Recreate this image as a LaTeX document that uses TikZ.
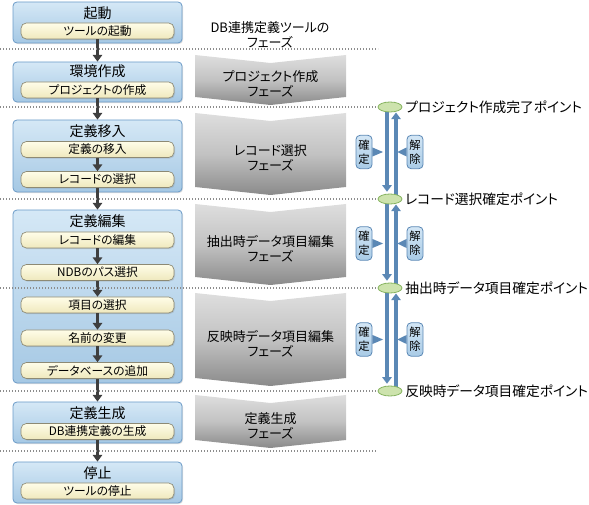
\documentclass[tikz,border=0pt]{standalone}
\usepackage{fontspec}
\setmainfont[RawFeature=+palt]{Noto Sans CJK JP}
\usetikzlibrary{arrows.meta,shadows,shapes.geometric}
\definecolor{boxedge}{HTML}{6B9BC8}
\definecolor{bluetop}{HTML}{D5E8F6}
\definecolor{bluebot}{HTML}{A5C8E4}
\definecolor{inneredge}{HTML}{8D8A74}
\definecolor{creamtop}{HTML}{FFFDE8}
\definecolor{creambot}{HTML}{EFE8BD}
\definecolor{flowgray}{HTML}{3F3F3F}
\definecolor{dotgray}{HTML}{8C8C8C}
\definecolor{arrowblue}{HTML}{5B88B5}
\definecolor{ktop}{HTML}{D3E6F5}
\definecolor{kbot}{HTML}{A9CBE6}
\definecolor{ellfill}{HTML}{CDE3AD}
\definecolor{elledge}{HTML}{86B35F}
\definecolor{chevtop}{HTML}{DEDEDE}
\definecolor{chevmid}{HTML}{C2C2C2}
\definecolor{chevbot}{HTML}{8A8A8A}
\begin{document}
\begin{tikzpicture}[x=0.75pt,y=-0.75pt,
  bluebox/.style={draw=boxedge, line width=0.6pt, rounded corners=3pt,
    top color=bluetop, bottom color=bluebot, minimum width=126.75pt, inner sep=0pt,
    drop shadow={opacity=0.25, shadow xshift=0.8pt, shadow yshift=-0.8pt}},
  innerbox/.style={draw=inneredge, line width=0.5pt, rounded corners=4pt,
    top color=creamtop, bottom color=creambot, minimum width=114.75pt,
    minimum height=12pt, inner sep=0pt, font=\fontsize{8.8}{10}\selectfont,
    drop shadow={opacity=0.25, shadow xshift=0.8pt, shadow yshift=-0.8pt}},
  boxtitle/.style={font=\fontsize{10.5}{12}\selectfont, inner sep=0pt},
  flow/.style={draw=flowgray, line width=2.25pt, -{Triangle[width=7pt,length=5pt]}},
  dotline/.style={draw=dotgray, line width=0.9pt, dash pattern=on 0.9pt off 1.35pt},
  chev/.style={top color=chevtop, bottom color=chevbot, middle color=chevmid},
  phasetext/.style={font=\fontsize{9.75}{11}\selectfont, align=center, inner sep=0pt},
  pointell/.style={ellipse, draw=elledge, line width=0.6pt, fill=ellfill,
    minimum width=18pt, minimum height=7.5pt, inner sep=0pt},
  pointlabel/.style={font=\fontsize{10.3}{11}\selectfont, anchor=west, inner sep=0pt},
  varr/.style={draw=arrowblue, line width=3pt, -{Triangle[width=7pt,length=5pt]}},
  kbox/.style={draw=arrowblue, line width=0.6pt, rounded corners=3pt,
    top color=ktop, bottom color=kbot, minimum width=12pt, minimum height=25pt,
    inner sep=0pt, align=center, font=\fontsize{8.5}{10.5}\selectfont},
]
\useasboundingbox (0,0) rectangle (589,505);

% ---- chevrons (phases) ----
\shade[chev] (195,55) -- (270.5,63) -- (346,55) -- (346,97) -- (270.5,105) -- (195,97) -- cycle;
\shade[chev] (195,113) -- (270.5,121) -- (346,113) -- (346,187) -- (270.5,195) -- (195,187) -- cycle;
\shade[chev] (195,204) -- (270.5,212) -- (346,204) -- (346,277) -- (270.5,285) -- (195,277) -- cycle;
\shade[chev] (195,293) -- (270.5,301) -- (346,293) -- (346,378) -- (270.5,386) -- (195,378) -- cycle;
\shade[chev] (195,395) -- (270.5,403) -- (346,395) -- (346,440) -- (270.5,448) -- (195,440) -- cycle;

\node[phasetext] (hdr) at (270,35) {DB連携定義ツールの\\フェーズ};
\node[phasetext] (ph1) at (270.5,84) {プロジェクト作成\\フェーズ};
\node[phasetext] (ph2) at (270.5,158) {レコード選択\\フェーズ};
\node[phasetext] (ph3) at (270.5,248.5) {抽出時データ項目編集\\フェーズ};
\node[phasetext] (ph4) at (270.5,343.5) {反映時データ項目編集\\フェーズ};
\node[phasetext] (ph5) at (270.5,426) {定義生成\\フェーズ};

% ---- left column boxes ----
\node[bluebox, minimum height=30.75pt] (b1) at (97.5,22.5) {};
\node[boxtitle] (t1) at (97.5,13) {起動};
\node[innerbox] (i1) at (97.5,31) {ツールの起動};

\node[bluebox, minimum height=30pt] (b2) at (97.5,82) {};
\node[boxtitle] (t2) at (97.5,71.5) {環境作成};
\node[innerbox] (i2) at (97.5,90) {プロジェクトの作成};

\node[bluebox, minimum height=54pt] (b3) at (97.5,156) {};
\node[boxtitle] (t3) at (97.5,131) {定義移入};
\node[innerbox] (i3a) at (97.5,149.5) {定義の移入};
\node[innerbox] (i3b) at (97.5,179.5) {レコードの選択};

\node[bluebox, minimum height=129.75pt] (b4) at (97.5,296.5) {};
\node[boxtitle] (t4) at (97.5,221) {定義編集};
\node[innerbox] (i4a) at (97.5,240) {レコードの編集};
\node[innerbox] (i4b) at (97.5,272.5) {NDBのパス選択};
\node[innerbox] (i4c) at (97.5,305) {項目の選択};
\node[innerbox] (i4d) at (97.5,338) {名前の変更};
\node[innerbox] (i4e) at (97.5,370.5) {データベースの追加};

\node[bluebox, minimum height=30.75pt] (b5) at (97.5,422.5) {};
\node[boxtitle] (t5) at (97.5,413) {定義生成};
\node[innerbox] (i5) at (97.5,431.5) {DB連携定義の生成};

\node[bluebox, minimum height=30.75pt] (b6) at (97.5,482.5) {};
\node[boxtitle] (t6) at (97.5,473) {停止};
\node[innerbox] (i6) at (97.5,491) {ツールの停止};

% ---- flow arrows ----
\draw[flow] (i1.south) -- (b2.north);
\draw[flow] (i2.south) -- (b3.north);
\draw[flow] (i3a.south) -- (i3b.north);
\draw[flow] (i3b.south) -- (b4.north);
\draw[flow] (i4a.south) -- (i4b.north);
\draw[flow] (i4b.south) -- (i4c.north);
\draw[flow] (i4c.south) -- (i4d.north);
\draw[flow] (i4d.south) -- (i4e.north);
\draw[flow] (i4e.south) -- (b5.north);
\draw[flow] (i5.south) -- (b6.north);

% ---- right side: points ----
\coordinate (e1c) at (390,107);
\coordinate (e2c) at (390,199);
\coordinate (e3c) at (390,288);
\coordinate (e4c) at (390,391);

\draw[varr] ([xshift=-2.25pt]e1c) -- ([xshift=-2.25pt,yshift=5.4pt]e2c);
\draw[varr] ([xshift=4.5pt]e2c) -- ([xshift=4.5pt,yshift=-4.1pt]e1c);
\draw[varr] ([xshift=-2.25pt]e2c) -- ([xshift=-2.25pt,yshift=5.4pt]e3c);
\draw[varr] ([xshift=4.5pt]e3c) -- ([xshift=4.5pt,yshift=-4.1pt]e2c);
\draw[varr] ([xshift=-2.25pt]e3c) -- ([xshift=-2.25pt,yshift=5.4pt]e4c);
\draw[varr] ([xshift=4.5pt]e4c) -- ([xshift=4.5pt,yshift=-4.1pt]e3c);

\node[pointell] (e1) at (e1c) {};
\node[pointell] (e2) at (e2c) {};
\node[pointell] (e3) at (e3c) {};
\node[pointell] (e4) at (e4c) {};

\node[pointlabel] (l1) at ([xshift=2pt]e1.east) {プロジェクト作成完了ポイント};
\node[pointlabel] (l2) at ([xshift=2pt]e2.east) {レコード選択確定ポイント};
\node[pointlabel] (l3) at ([xshift=2pt]e3.east) {抽出時データ項目確定ポイント};
\node[pointlabel] (l4) at ([xshift=2pt]e4.east) {反映時データ項目確定ポイント};

% confirm / release boxes
\node[kbox] (k1) at (364,152) {確\\定};
\node[kbox] (r1) at (415,152) {解\\除};
\node[kbox] (k2) at (364,243.5) {確\\定};
\node[kbox] (r2) at (415,243.5) {解\\除};
\node[kbox] (k3) at (364,339.5) {確\\定};
\node[kbox] (r3) at (415,339.5) {解\\除};

\foreach \k in {k1,k2,k3}{
  \fill[arrowblue] ([yshift=3.4pt]\k.east) -- ([xshift=8pt]\k.east) -- ([yshift=-3.4pt]\k.east) -- cycle;
}
\foreach \r in {r1,r2,r3}{
  \fill[arrowblue] ([yshift=3.4pt]\r.west) -- ([xshift=-7pt]\r.west) -- ([yshift=-3.4pt]\r.west) -- cycle;
}

% ---- dotted separators ----
\draw[dotline] (0,49) -- (378,49);
\draw[dotline] (0,107) -- (e1.west);
\draw[dotline] (0,199) -- (e2.west);
\draw[dotline] (0,288) -- (e3.west);
\draw[dotline] (0,391) -- (e4.west);
\draw[dotline] (0,451) -- (376,451);
\end{tikzpicture}
\end{document}
